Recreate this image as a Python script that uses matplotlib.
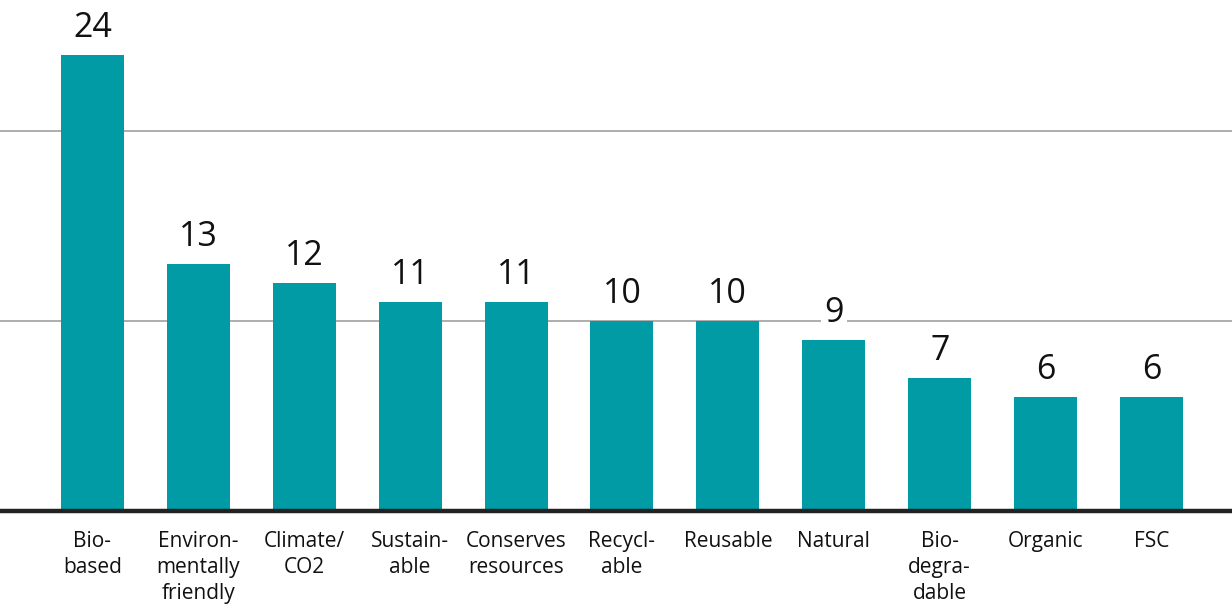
"""Claims bar chart."""
import matplotlib
matplotlib.use('Agg')
import matplotlib.pyplot as plt
import numpy as np

plt.rcParams['font.family'] = ['Open Sans', 'DejaVu Sans']

categories = ["Bio-\nbased", "Environ-\nmentally\nfriendly", "Climate/\nCO2", "Sustain-\nable",
              "Conserves\nresources", "Recycl-\nable", "Reusable", "Natural", "Bio-\ndegra-\ndable",
              "Organic", "FSC"]
values = [24, 13, 12, 11, 11, 10, 10, 9, 7, 6, 6]

BAR = '#009ba4'

fig = plt.figure(figsize=(12.32, 6.08), dpi=100)
ax = fig.add_axes([0, 97 / 608, 1, 511 / 608])

x = np.arange(len(categories))
bars = ax.bar(x, values, width=0.595, color=BAR, zorder=2)

# value labels with white box so they cut the gridlines
for bar, v in zip(bars, values):
    ax.annotate(str(v), (bar.get_x() + bar.get_width() / 2, bar.get_height()),
                xytext=(0, 7), textcoords='offset points', ha='center', va='bottom',
                fontsize=24.5, color='#111111', zorder=3,
                bbox=dict(boxstyle='square,pad=0.1', fc='white', ec='none'))

ax.set_xlim(-0.873, 10.76)
ax.set_ylim(0, 511 / 19)
ax.set_yticks([10, 20])
ax.yaxis.grid(True, color='#a0a0a0', linewidth=1.2, zorder=0)
ax.tick_params(left=False, labelleft=False, bottom=False)
ax.set_xticks(x)
ax.set_xticklabels(categories, fontsize=15, color='#111111', linespacing=1.3)
ax.tick_params(axis='x', pad=11)

for s in ['top', 'right', 'left']:
    ax.spines[s].set_visible(False)
ax.spines['bottom'].set_color('#222222')
ax.spines['bottom'].set_linewidth(3.2)
ax.spines['bottom'].set_zorder(4)

fig.savefig('out.png', dpi=100, facecolor='white')
